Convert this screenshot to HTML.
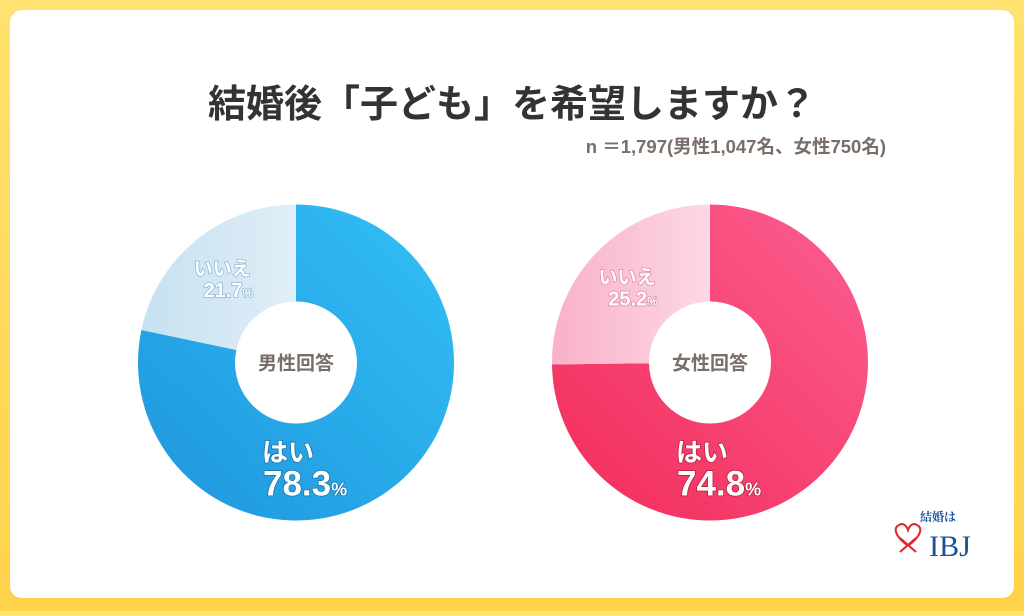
<!DOCTYPE html>
<html><head><meta charset="utf-8">
<style>
html,body{margin:0;padding:0;}
body{width:1024px;height:611px;overflow:hidden;background:linear-gradient(180deg,#ffe270,#ffd24a);font-family:"Liberation Sans","Noto Sans CJK JP",sans-serif;}
</style></head>
<body>
<svg width="1024" height="611" xmlns="http://www.w3.org/2000/svg">
<defs>
<linearGradient id="blue" x1="0" y1="1" x2="1" y2="0"><stop offset="0" stop-color="#1e96dc"/><stop offset="1" stop-color="#33bff7"/></linearGradient>
<linearGradient id="lblue" x1="0" y1="0" x2="1" y2="0"><stop offset="0" stop-color="#c6e1f0"/><stop offset="1" stop-color="#e0eef7"/></linearGradient>
<linearGradient id="pink" x1="0" y1="1" x2="1" y2="0"><stop offset="0" stop-color="#f22b58"/><stop offset="1" stop-color="#fb5f91"/></linearGradient>
<linearGradient id="lpink" x1="0" y1="0" x2="1" y2="0"><stop offset="0" stop-color="#f9b1c8"/><stop offset="1" stop-color="#fdd8e4"/></linearGradient>
</defs>
<rect x="10" y="10" width="1004" height="588" rx="12" fill="#fff"/>
<text x="512" y="117" text-anchor="middle" font-size="38" font-weight="bold" fill="#333">結婚後「子ども」を希望しますか？</text>
<text x="886" y="153" text-anchor="end" font-size="18.5" font-weight="bold" fill="#7a6e68">n ＝1,797(男性1,047名、女性750名)</text>
<g id="donuts"></g>
<g>
<text x="938" y="521" text-anchor="middle" font-size="12" font-weight="bold" fill="#1a4f9c" font-family="'Noto Serif CJK SC',serif">結婚は</text>
<path d="M907 545 C895 536,893 528,899 525 C904 522,907 527,908 530 C909 527,912 522,917 525 C923 528,921 536,909 545 M900 552 L916 538 M916 552 L900 538" fill="none" stroke="#e0242c" stroke-width="2"/>
<text x="950" y="556" text-anchor="middle" font-size="30" fill="#1a4f9c" font-family="'Liberation Serif',serif">IBJ</text>
</g>
</svg>
<script>
const groups=["男性回答","女性回答"];
const yes=[78.3,74.8];
const centersX=[296,710];
const cy=362.5,R=158,r=61;
const yesFill=["url(#blue)","url(#pink)"],noFill=["url(#lblue)","url(#lpink)"];
const NS="http://www.w3.org/2000/svg";
function ang(p){return p/100*2*Math.PI;}
function pt(cx,a,rad){return [cx+rad*Math.sin(a),cy-rad*Math.cos(a)];}
function arc(cx,p0,p1){const a0=ang(p0),a1=ang(p1);const [x0,y0]=pt(cx,a0,R),[x1,y1]=pt(cx,a1,R);const lg=(p1-p0)>50?1:0;return `M${cx} ${cy} L${x0} ${y0} A${R} ${R} 0 ${lg} 1 ${x1} ${y1} Z`;}
const g=document.getElementById('donuts');
function el(t,attrs,txt){const e=document.createElementNS(NS,t);for(const k in attrs)e.setAttribute(k,attrs[k]);if(txt)e.textContent=txt;g.appendChild(e);return e;}
groups.forEach((name,i)=>{
 const cx=centersX[i],y=yes[i],n=+(100-y).toFixed(1);
 const s1=el('path',{d:arc(cx,0,y),fill:yesFill[i]});
 
 
 const s2=el('path',{d:arc(cx,y,100),fill:noFill[i]});
 
 
 const c=el('circle',{cx:cx,cy:cy,r:r,fill:'#fff'});
 
 
 const t=el('text',{x:cx,y:cy+7,'text-anchor':'middle','font-size':19,'font-weight':'bold',fill:'#7a6e68'},name);
 
 
 const na=ang(y+(100-y)/2);const [nx,ny]=pt(cx,na,R*0.72);
 const l1=el('text',{x:nx-2,y:ny+1,'text-anchor':'middle','font-size':19,'font-weight':'bold',fill:'#fff',stroke:i?'#e08aa8':'#8fb8d0','stroke-width':1.5,'paint-order':'stroke'},'いいえ');
 
 
 const l2=el('text',{x:nx+4,y:ny+23,'text-anchor':'middle','font-size':20,'font-weight':'bold',fill:'#fff',stroke:i?'#e08aa8':'#8fb8d0','stroke-width':1.5,'paint-order':'stroke'});
 l2.innerHTML=n.toFixed(1)+'<tspan font-size="12">%</tspan>';
 
 
 const y1=el('text',{x:cx-34,y:cy+99,'font-size':26,'font-weight':'bold',fill:'#fff',stroke:i?'#b01e40':'#1670a8','stroke-width':1.5,'paint-order':'stroke'},'はい');
 
 
 const y2=el('text',{x:cx-33,y:cy+133,'font-size':35,'font-weight':'bold',fill:'#fff',stroke:i?'#b01e40':'#1670a8','stroke-width':1.5,'paint-order':'stroke'});
 y2.innerHTML=y.toFixed(1)+'<tspan font-size="18">%</tspan>';
 
 
});
</script>
</body></html>
